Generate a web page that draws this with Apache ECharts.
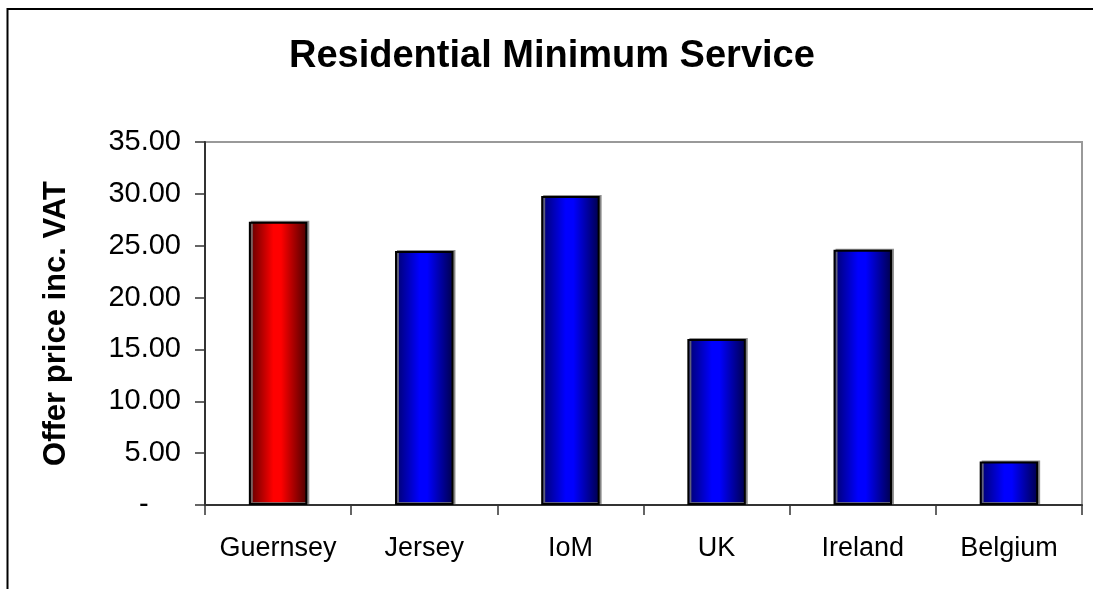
<!DOCTYPE html>
<html>
<head>
<meta charset="utf-8">
<script src="https://cdn.jsdelivr.net/npm/echarts@6/dist/echarts.min.js"></script>
<style>
  html, body { margin: 0; padding: 0; background: #fff; }
  #chart { width: 1093px; height: 589px; }
</style>
</head>
<body>
<div id="chart"></div>
<script>
/* ===== Residential Minimum Service ===== */

const categories = ["Guernsey", "Jersey", "IoM", "UK", "Ireland", "Belgium"];
const prices = [27.3, 24.5, 29.8, 16.0, 24.6, 4.2];
const yTicks = [0, 5, 10, 15, 20, 25, 30, 35];

const FONT = "'Liberation Sans', Arial, sans-serif";

function cylinder(dark, bright, darkEnd) {
    return new echarts.graphic.LinearGradient(0, 0, 1, 0, [
        { offset: 0, color: dark },
        { offset: 0.42, color: bright },
        { offset: 0.55, color: bright },
        { offset: 1, color: darkEnd },
    ]);
}

const RED = cylinder("#5a0000", "#ff0000", "#4a0000");
const BLUE = cylinder("#00006a", "#0000ff", "#00004a");

const chart = echarts.init(document.getElementById("chart"), null, { renderer: "canvas" });

chart.setOption({
    animation: false,
    backgroundColor: "#fff",
    textStyle: { fontFamily: FONT },
    title: {
        text: "Residential Minimum Service",
        left: 289,
        top: 38,
        padding: 0,
        textStyle: { fontFamily: FONT, fontSize: 38, fontWeight: "bold", color: "#000" },
    },
    graphic: [{
        // outer chart border (top + left visible)
        type: "rect",
        shape: { x: 7.5, y: 9, width: 1200, height: 700 },
        style: { fill: "none", stroke: "#000", lineWidth: 2 },
        silent: true,
    }],
    grid: {
        left: 205, top: 142, right: 11, bottom: 84,
        show: true, borderColor: "#999", borderWidth: 2, backgroundColor: "#fff",
    },
    xAxis: {
        type: "category",
        data: categories,
        axisLine: { lineStyle: { color: "#333", width: 2 } },
        axisTick: { show: true, interval: 0, length: 10, lineStyle: { color: "#333", width: 1.5 } },
        axisLabel: { color: "#000", fontSize: 27, fontFamily: FONT, margin: 30, interval: 0 },
    },
    yAxis: {
        type: "value",
        min: yTicks[0],
        max: yTicks[yTicks.length - 1],
        interval: 5,
        name: "Offer price inc. VAT",
        nameLocation: "middle",
        nameGap: 133,
        nameTextStyle: { fontFamily: FONT, fontSize: 31, fontWeight: "bold", color: "#000" },
        axisLine: { show: true, lineStyle: { color: "#333", width: 2 } },
        axisTick: { show: true, length: 10, lineStyle: { color: "#333", width: 1.5 } },
        splitLine: { show: false },
        axisLabel: {
            color: "#000", fontSize: 29, fontFamily: FONT, margin: 24,
            formatter: v => (v === 0 ? "-    " : v.toFixed(2)),
        },
    },
    series: [{
        type: "bar",
        barWidth: "40%",
        data: prices.map((v, i) => ({
            value: v,
            itemStyle: { color: categories[i] === "Guernsey" ? RED : BLUE },
        })),
        itemStyle: {
            borderColor: "#000",
            borderWidth: 2,
            shadowColor: "rgba(120,120,120,0.8)",
            shadowOffsetX: 2,
            shadowOffsetY: -1,
        },
    }],
});
</script>
</body>
</html>
